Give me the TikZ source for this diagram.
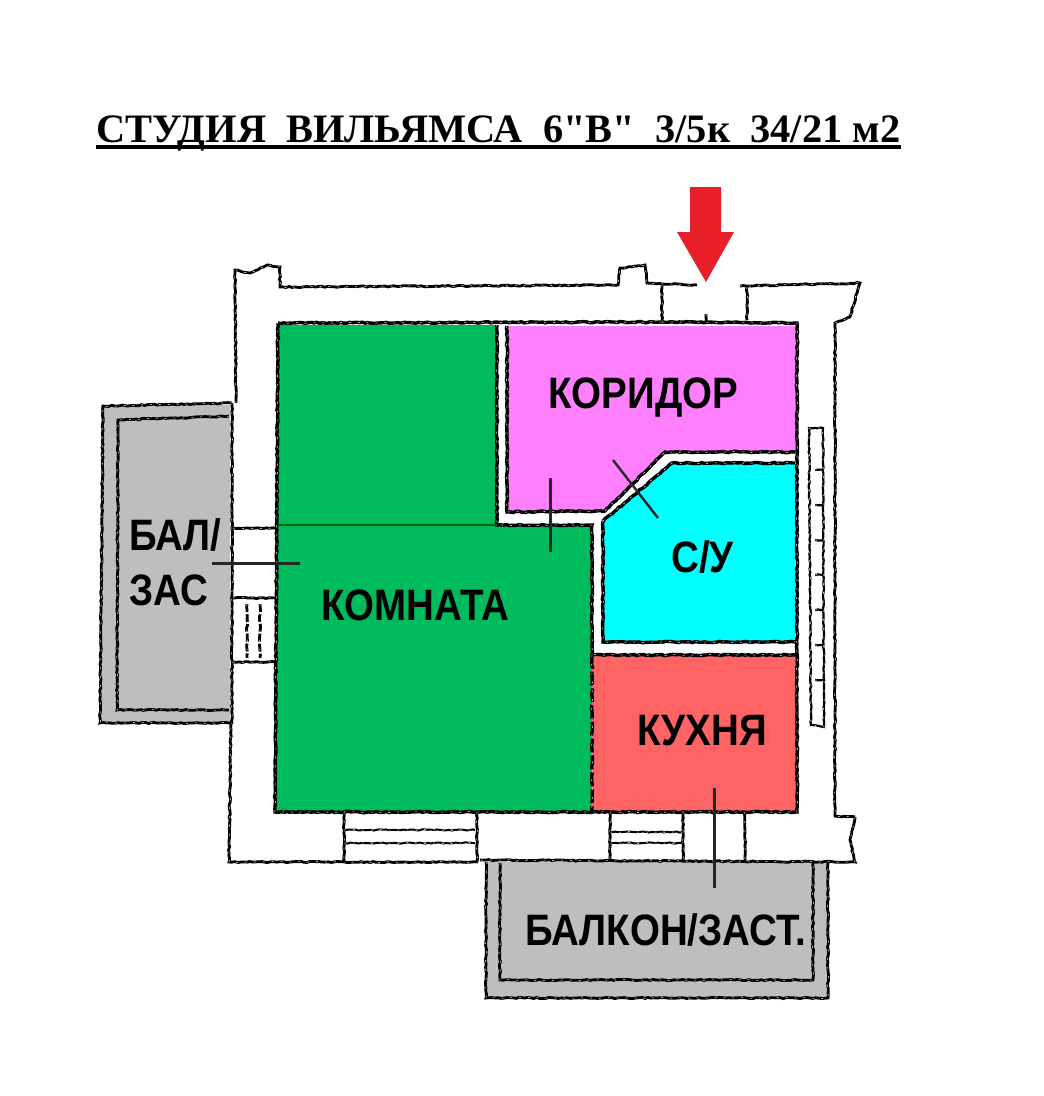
\documentclass[tikz,border=0pt]{standalone}
\usepackage{fontspec}
\usetikzlibrary{decorations.pathmorphing}
\newfontfamily\planfont[FakeStretch=0.875]{Liberation Sans}
\newfontfamily\titlefont{Liberation Serif}
\definecolor{roomgreen}{HTML}{00BB5D}
\definecolor{hallpink}{HTML}{FF80FF}
\definecolor{bathcyan}{HTML}{00FFFF}
\definecolor{kitchenred}{HTML}{FF6464}
\definecolor{balconygray}{HTML}{BEBEBE}
\definecolor{arrowred}{HTML}{E71F28}
\tikzset{
	wall/.style={draw=black,line width=3.4pt,decorate,decoration={random steps,segment length=3pt,amplitude=0.6pt},postaction={draw=white,line width=0.5pt,dash pattern=on 2pt off 7pt}},
	thinwall/.style={wall,line width=2.8pt},
	leader/.style={draw=black!85,line width=3pt},
	planlabel/.style={anchor=base west,inner sep=0pt,font=\planfont\bfseries\fontsize{44}{48}\selectfont}
}
\begin{document}
\begin{tikzpicture}[x=1pt,y=-1pt]
	\useasboundingbox[fill=white] (0,0) rectangle (1044,1096);
	\pgfmathsetseed{11}
	\node[anchor=base west,inner sep=0pt,font=\titlefont\bfseries\fontsize{40.4}{44}\selectfont] (title) at (96,142) {СТУДИЯ\ \ ВИЛЬЯМСА\ \ 6"В"\ \ 3/5к\ \ 34/21 м2};
	\draw[line width=3.4pt] ([yshift=-5pt]title.base west) -- ([yshift=-5pt]title.base east);
	\fill[arrowred] (690,187) -- (721,187) -- (721,232) -- (734,232) -- (706,282) -- (677,232) -- (690,232) -- cycle;
	\fill[balconygray] (101,405) rectangle (230,724);
	\fill[balconygray] (486,862) rectangle (828,998);
	\fill[roomgreen] (278,325) -- (497,325) -- (497,525) -- (592,525) -- (592,812) -- (275,812) -- cycle;
	\fill[hallpink] (507,326) -- (796,326) -- (796,452) -- (665,452) -- (605,511) -- (507,512) -- cycle;
	\fill[bathcyan] (603,521) -- (672,463) -- (795,463) -- (795,642) -- (603,642) -- cycle;
	\fill[kitchenred] (592,655) -- (797,655) -- (797,812) -- (592,812) -- cycle;
	\draw[thinwall] (236,403) -- (235,270) -- (250,273) -- (267,265) -- (280,267) -- (280,287) -- (618,285) -- (620,268) -- (645,265) -- (647,283) -- (697,285);
	\draw[thinwall] (740,286) -- (860,283) -- (850,317) -- (835,323) -- (835,816) -- (855,817);
	\draw[thinwall] (855,817) -- (850,840) -- (855,862) -- (480,860);
	\draw[thinwall] (478,862) -- (229,862) -- (231,724);
	\draw[wall] (278,323) -- (662,322);
	\draw[wall] (662,322) -- (797,323) -- (797,812) -- (275,812) -- (278,323);
	\draw[wall] (507,326) -- (507,512) -- (605,511) -- (665,452) -- (796,452);
	\draw[wall] (497,325) -- (497,525) -- (592,525) -- (592,655) -- (797,655);
	\draw[wall,dash pattern=on 14pt off 3pt] (592,655) -- (592,812);
	\draw[wall] (603,521) -- (672,463) -- (795,463);
	\draw[wall] (603,521) -- (603,642) -- (795,642);
	\draw[thinwall] (662,285) -- (662,322);
	\draw[thinwall] (747,287) -- (747,320);
	\draw[thinwall] (706,314) -- (706,322);
	\draw[thinwall] (232,403) -- (232,724);
	\draw[thinwall] (233,528) -- (275,528);
	\draw[thinwall] (233,598) -- (275,598);
	\draw[thinwall] (233,662) -- (275,662);
	\draw[thinwall,dash pattern=on 8pt off 2pt] (247,604) -- (247,658);
	\draw[thinwall,dash pattern=on 8pt off 2pt] (260,604) -- (260,658);
	\draw[thinwall] (344,812) -- (344,862);
	\draw[thinwall] (477,812) -- (477,862);
	\draw[thinwall,line width=2pt] (344,830) -- (475,830);
	\draw[thinwall,line width=2pt] (344,843) -- (475,843);
	\draw[thinwall] (610,812) -- (610,860);
	\draw[thinwall] (683,812) -- (683,860);
	\draw[thinwall] (745,812) -- (745,860);
	\draw[thinwall,line width=2pt] (610,832) -- (683,832);
	\draw[thinwall,line width=2pt] (610,843) -- (683,843);
	\draw[thinwall] (232,403) -- (103,406) -- (100,723) -- (232,723);
	\draw[thinwall] (229,416) -- (118,420) -- (117,710) -- (229,710);
	\draw[thinwall] (486,862) -- (486,998) -- (828,998) -- (828,862);
	\draw[thinwall] (500,863) -- (500,980) -- (813,980) -- (813,863);
	\draw[thinwall,line width=2.2pt] (809,428) -- (823,428) -- (824,727) -- (811,725) -- cycle;
	\foreach \ticky in {470,505,540,575,610,645,680}
		\draw[thinwall,line width=2.2pt] (815,\ticky) -- (823,\ticky);
	\draw[draw=black!60!green,line width=1.2pt] (278,525) -- (497,525);
	\draw[leader] (212,563) -- (300,563);
	\draw[leader] (550,478) -- (550,552);
	\draw[leader] (714,788) -- (714,888);
	\draw[leader,line width=2.4pt] (613,460) -- (658,518);
	\node[planlabel] (corridor) at (548,408) {КОРИДОР};
	\node[planlabel] (bathroom) at (671,572) {С/У};
	\node[planlabel] (livingroom) at (321,620) {КОМНАТА};
	\node[planlabel] (kitchen) at (637,745) {КУХНЯ};
	\node[planlabel] (westbalcony) at (129,550) {БАЛ/};
	\node[planlabel] (westbalconyb) at (129,605) {ЗАС};
	\node[planlabel] (southbalcony) at (525,945) {БАЛКОН/ЗАСТ.};
\end{tikzpicture}
\end{document}
